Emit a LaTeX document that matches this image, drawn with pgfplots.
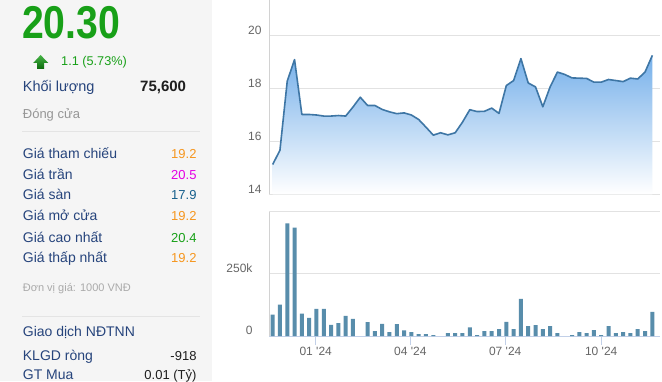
\documentclass[border=0pt]{standalone}
\usepackage{fontspec}
\setmainfont{Liberation Sans}
\usepackage{graphicx}
\usepackage{pgfplots}
\pgfplotsset{compat=1.18}
\definecolor{panelbg}{RGB}{245,245,245}
\definecolor{sepc}{RGB}{228,228,228}
\definecolor{labelc}{RGB}{38,68,124}
\definecolor{grayt}{RGB}{150,150,150}
\definecolor{grayt2}{RGB}{170,170,170}
\definecolor{orangec}{RGB}{245,150,30}
\definecolor{magc}{RGB}{228,0,228}
\definecolor{tealc}{RGB}{22,95,140}
\definecolor{greenc}{RGB}{24,160,24}
\definecolor{blackc}{RGB}{30,30,30}
\definecolor{linec}{RGB}{62,118,165}
\definecolor{fillc}{RGB}{118,176,234}
\definecolor{barc}{RGB}{88,141,171}
\definecolor{gridc}{RGB}{226,226,226}
\definecolor{leftc}{RGB}{210,210,210}
\definecolor{axisc}{RGB}{194,208,232}
\definecolor{tickc}{RGB}{102,102,102}
\pgfplotstableread{
k v
0 15.13
1 15.67
2 18.28
3 19.09
4 17.02
5 17.02
6 17.00
7 16.96
8 16.96
9 16.98
10 16.96
11 17.30
12 17.67
13 17.36
14 17.36
15 17.21
16 17.12
17 17.05
18 17.08
19 17.00
20 16.83
21 16.54
22 16.24
23 16.33
24 16.25
25 16.33
26 16.73
27 17.20
28 17.13
29 17.14
30 17.26
31 17.06
32 18.11
33 18.30
34 19.13
35 18.21
36 18.06
37 17.31
38 18.06
39 18.62
40 18.53
41 18.40
42 18.39
43 18.38
44 18.24
45 18.24
46 18.34
47 18.30
48 18.26
49 18.39
50 18.36
51 18.62
52 19.25
}\pricetable
\pgfplotstableread{
k v
0 86000
1 126000
2 453000
3 436000
4 90000
5 73000
6 109000
7 109000
8 45000
9 52000
10 81000
11 69000
13 56000
14 20000
15 49000
16 16000
17 48000
18 23000
19 16000
20 8000
21 8000
22 4000
24 12000
25 12000
26 12000
27 35000
28 4000
29 20000
30 20000
31 28000
32 57000
33 28000
34 149000
35 40000
36 44000
37 28000
38 40000
39 12000
41 4000
42 16000
43 12000
44 24000
45 4000
46 40000
47 12000
48 16000
49 12000
50 28000
51 20000
52 97000
}\voltable
\begin{document}
\begin{tikzpicture}[x=1pt,y=1pt]
\useasboundingbox (0pt,0pt) rectangle (662pt,381pt);
\clip (0pt,0pt) rectangle (662pt,381pt);
\fill[white] (0pt,0pt) rectangle (662pt,381pt);
\fill[panelbg] (0pt,0pt) rectangle (212pt,381pt);
% separators
\draw[sepc, line width=0.8pt] (22pt,250pt) -- (200pt,250pt);
\draw[sepc, line width=0.8pt] (22pt,64.3pt) -- (200pt,64.3pt);
% big price
\node[anchor=base west, inner sep=0pt, text=greenc] at (22pt,342pt) {\fontsize{46}{46}\selectfont\bfseries\scalebox{0.852}[1]{20.30}};
% arrow
\shade[top color={rgb,255:red,70;green,180;blue,70}, bottom color={rgb,255:red,10;green,105;blue,10}]
  (40.6pt,326pt) -- (48.3pt,318pt) -- (44.2pt,318pt) -- (44.2pt,312pt) -- (37.2pt,312pt) -- (37.2pt,318pt) -- (33.2pt,318pt) -- cycle;
\node[anchor=base west, inner sep=0pt, text=greenc] at (61pt,315.3pt) {\fontsize{12.7}{14}\selectfont 1.1 (5.73\%)};
\node[anchor=base west, inner sep=0pt, text=labelc] at (22.7pt,289.3pt) {\fontsize{14.5}{16}\selectfont Khối lượng};
\node[anchor=base west, inner sep=0pt, text=blackc] at (140pt,289.3pt) {\fontsize{15}{16}\selectfont\bfseries 75,600};
\node[anchor=base west, inner sep=0pt, text=grayt] at (22.7pt,262.7pt) {\fontsize{13}{15}\selectfont Đóng cửa};
% table
\foreach \lab/\val/\col/\yy in {Giá tham chiếu/19.2/orangec/222.7, Giá trần/20.5/magc/201.7, Giá sàn/17.9/tealc/181.3, Giá mở cửa/19.2/orangec/160.3, Giá cao nhất/20.4/greenc/139, Giá thấp nhất/19.2/orangec/118.3}{
  \node[anchor=base west, inner sep=0pt, text=labelc] at (22.7pt,\yy pt) {\fontsize{14}{16}\selectfont \lab};
  \node[anchor=base east, inner sep=0pt, text=\col] at (196.7pt,\yy pt) {\fontsize{13}{16}\selectfont \val};
}
\node[anchor=base west, inner sep=0pt, text=grayt2] at (22.7pt,89.3pt) {\fontsize{11}{13}\selectfont Đơn vị giá: 1000 VNĐ};
\node[anchor=base west, inner sep=0pt, text=labelc] at (22.7pt,44.3pt) {\fontsize{14}{16}\selectfont Giao dịch NĐTNN};
\node[anchor=base west, inner sep=0pt, text=labelc] at (22.7pt,21pt) {\fontsize{14}{16}\selectfont KLGD ròng};
\node[anchor=base east, inner sep=0pt, text=blackc] at (196.7pt,21pt) {\fontsize{13}{16}\selectfont -918};
\node[anchor=base west, inner sep=0pt, text=labelc] at (22.7pt,1.5pt) {\fontsize{14}{16}\selectfont GT Mua};
\node[anchor=base east, inner sep=0pt, text=blackc] at (196.7pt,1.5pt) {\fontsize{13}{16}\selectfont 0.01 (Tỷ)};
% price chart
\begin{axis}[
  at={(269pt,186.5pt)}, anchor=south west, scale only axis,
  width=391pt, height=194.5pt,
  xmin=-0.5, xmax=53.05, ymin=14, ymax=21.34,
  axis x line=none, axis y line*=left,
  y axis line style={draw=leftc, line width=0.8pt, -},
  ytick={14,16,18,20}, yticklabels={14,16,18,20},
  major tick length=0pt,
  ymajorgrids, grid style={draw=gridc, line width=0.8pt},
  yticklabel style={font=\fontsize{12}{14}\selectfont, text=tickc, anchor=east, inner sep=0pt, xshift=-7.3pt, yshift=5.4pt},
]
\addplot[draw=none, top color=fillc, bottom color=white, shading angle=0] table[x=k,y=v] {\pricetable} -- (axis cs:52,14) -- (axis cs:0,14) -- cycle;
\addplot[linec, line width=1.6pt, line join=round, mark=none] table[x=k,y=v] {\pricetable};
\end{axis}
% volume chart
\begin{axis}[
  at={(269pt,45pt)}, anchor=south west, scale only axis,
  width=391pt, height=124.3pt,
  xmin=-0.5, xmax=53.05, ymin=0, ymax=500000,
  axis x line*=bottom, axis y line*=left,
  x axis line style={draw=axisc, line width=0.8pt, -},
  y axis line style={draw=leftc, line width=0.8pt, -},
  ytick={0,250000,500000}, yticklabels={0,250k,},
  scaled y ticks=false,
  ymajorgrids, grid style={draw=gridc, line width=0.8pt},
  y tick style={draw=none},
  xtick={5.9,18.85,31.85,45}, xticklabels={01 \textquotesingle 24, 04 \textquotesingle 24, 07 \textquotesingle 24, 10 \textquotesingle 24},
  x tick style={draw=axisc, line width=1pt},
  major tick length=9pt, tick align=outside,
  yticklabel style={font=\fontsize{12}{14}\selectfont, text=tickc, anchor=east, inner sep=0pt, xshift=-7.3pt, yshift=5.6pt},
  xticklabel style={font=\fontsize{12}{14}\selectfont, text=tickc, anchor=north, inner sep=0pt, yshift=-1.7pt},
]
\addplot[ybar, bar width=4pt, fill=barc, draw=none] table[x=k,y=v] {\voltable};
\end{axis}
\end{tikzpicture}
\end{document}
